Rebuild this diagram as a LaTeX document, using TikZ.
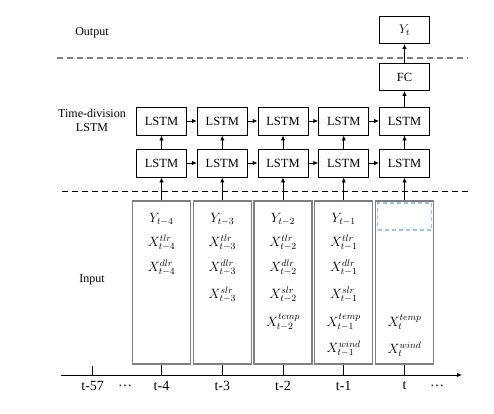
\RequirePackage{fix-cm}
\documentclass[tikz,border=0pt]{standalone}
\usepackage{fontspec}
\setmainfont{Liberation Serif}
\usetikzlibrary{arrows.meta}
\definecolor{boxgray}{HTML}{7F7F7F}
\definecolor{dashgray}{HTML}{808080}
\definecolor{lightblue}{HTML}{9DC3E6}
\begin{document}
\begin{tikzpicture}[x=1pt,y=-1pt,
  every node/.style={font=\fontsize{12.5}{15}\selectfont},
  lstm/.style={draw=black,line width=0.9pt,minimum width=50pt,minimum height=28pt,inner sep=0pt},
  inbox/.style={draw=boxgray,line width=1.4pt,minimum width=58pt,minimum height=163pt,inner sep=0pt},
  conn/.style={line width=0.9pt,-{Latex[length=5pt,width=4.5pt]}},
  tick/.style={line width=0.9pt},
  lab/.style={font=\fontsize{12}{14}\selectfont,align=center},
  axlab/.style={font=\fontsize{14}{16}\selectfont},
  itext/.style={font=\fontsize{13.5}{15}\selectfont,inner sep=0pt}
]
\useasboundingbox (0,0) rectangle (494,413);

% side labels
\node[lab] (lout) at (92,33) {Output};
\node[lab] (llstm) at (92,120) {Time-division\\LSTM};
\node[lab] (lin) at (92,280) {Input};

% dashed separators
\coordinate (d1s) at (57,58); \coordinate (d1e) at (468,58);
\coordinate (d2s) at (62,191); \coordinate (d2e) at (468,191);
\draw[dashgray,line width=1.4pt,dash pattern=on 6pt off 4pt] (d1s) -- (d1e);
\draw[black,line width=0.9pt,dash pattern=on 6pt off 4pt] (d2s) -- (d2e);

% columns
\foreach \i/\x in {1/161.5,2/222.3,3/283,4/343.7,5/404.5}{
  \node[lstm] (up\i) at (\x,121) {LSTM};
  \node[lstm] (lo\i) at (\x,163) {LSTM};
  \node[inbox] (in\i) at (\x,282.5) {};
  \coordinate (ax\i) at (\x,375);
}

% output path
\node[lstm,minimum height=27pt] (fc) at (404.5,77) {FC};
\node[lstm,minimum height=27pt] (yt) at (404.5,30) {$Y_t$};

% arrows
\foreach \i/\j in {1/2,2/3,3/4,4/5}{
  \draw[conn] (up\i) -- (up\j);
  \draw[conn] (lo\i) -- (lo\j);
}
\foreach \i in {1,...,5}{
  \draw[conn] (lo\i) -- (up\i);
  \draw[conn] (in\i.north) -- (lo\i.south);
  \draw[tick] (in\i.south) -- (ax\i);
}
\draw[conn] (up5) -- (fc);
\draw[conn] (fc) -- (yt);

% input texts
\node[itext] (a1) at (161.5,219) {$Y_{t-4}$};
\node[itext] (a2) at (161.5,243) {$X^{tlr}_{t-4}$};
\node[itext] (a3) at (161.5,268) {$X^{dlr}_{t-4}$};

\node[itext] (b1) at (222.3,219) {$Y_{t-3}$};
\node[itext] (b2) at (222.3,243) {$X^{tlr}_{t-3}$};
\node[itext] (b3) at (222.3,268) {$X^{dlr}_{t-3}$};
\node[itext] (b4) at (222.3,295) {$X^{slr}_{t-3}$};

\node[itext] (c1) at (283,219) {$Y_{t-2}$};
\node[itext] (c2) at (283,243) {$X^{tlr}_{t-2}$};
\node[itext] (c3) at (283,268) {$X^{dlr}_{t-2}$};
\node[itext] (c4) at (283,295) {$X^{slr}_{t-2}$};
\node[itext] (c5) at (283,322) {$X^{temp}_{t-2}$};

\node[itext] (e1) at (343.7,219) {$Y_{t-1}$};
\node[itext] (e2) at (343.7,243) {$X^{tlr}_{t-1}$};
\node[itext] (e3) at (343.7,268) {$X^{dlr}_{t-1}$};
\node[itext] (e4) at (343.7,295) {$X^{slr}_{t-1}$};
\node[itext] (e5) at (343.7,322) {$X^{temp}_{t-1}$};
\node[itext] (e6) at (343.7,349) {$X^{wind}_{t-1}$};

\node[itext] (f5) at (404.5,322) {$X^{temp}_{t}$};
\node[itext] (f6) at (404.5,349) {$X^{wind}_{t}$};
\node[draw=lightblue,line width=1.2pt,dash pattern=on 4pt off 3pt,minimum width=54pt,minimum height=27pt,inner sep=0pt] (blank) at (404.5,216.5) {};

% time axis
\coordinate (axs) at (61,375); \coordinate (axe) at (462,375);
\coordinate (t57) at (92.7,375); \coordinate (t57top) at (92.7,366);
\draw[line width=0.9pt,-{Latex[length=5pt,width=4.5pt]}] (axs) -- (axe);
\draw[tick] (t57top) -- (t57);
\node[axlab] (l57) at (92.7,386) {t-57};
\node[axlab] (ld1) at (125,386) {\dots};
\node[axlab] (l4) at (161.5,386) {t-4};
\node[axlab] (l3) at (222.3,386) {t-3};
\node[axlab] (l2) at (283,386) {t-2};
\node[axlab] (l1) at (343.7,386) {t-1};
\node[axlab] (l0) at (404.5,386) {t};
\node[axlab] (ld2) at (437,386) {\dots};
\end{tikzpicture}
\end{document}
